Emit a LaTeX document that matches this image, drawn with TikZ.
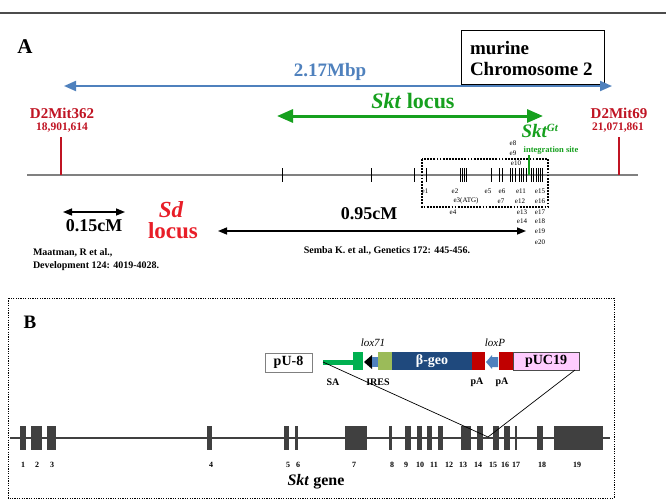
\documentclass[tikz,border=0pt]{standalone}
\usepackage{fontspec}
\setmainfont{Liberation Serif}
\usetikzlibrary{arrows.meta}
\definecolor{mblue}{RGB}{79,129,189}
\definecolor{mgreen}{RGB}{22,160,30}
\definecolor{dred}{RGB}{192,20,35}
\definecolor{bred}{RGB}{232,30,40}
\definecolor{cgray}{RGB}{128,128,128}
\definecolor{egray}{RGB}{64,64,64}
\definecolor{navy}{RGB}{31,73,125}
\definecolor{olive}{RGB}{155,187,89}
\definecolor{cred}{RGB}{192,0,0}
\definecolor{pinkf}{RGB}{255,204,255}
\definecolor{sagreen}{RGB}{0,176,80}
\newcommand{\fsz}[1]{\fontsize{#1}{#1}\selectfont}
\tikzset{
  txt/.style={inner sep=0pt, outer sep=0pt, align=center},
  elbl/.style={inner sep=0pt, font=\fsz{7}},
  glbl/.style={inner sep=0pt, font=\fsz{8}\bfseries},
  exon/.style={fill=egray, draw=none},
  atick/.style={line width=0.8pt, black},
  dbl/.style={line width=1.5pt, {Triangle[length=9pt,width=7pt]}-{Triangle[length=9pt,width=7pt]}},
  cas/.style={draw=none},
}
\begin{document}
\begin{tikzpicture}[x=1pt,y=-1pt]
\useasboundingbox (0,0) rectangle (666,499);
\fill[white] (0,0) rectangle (666,499);
% top rule
\draw[line width=1.5pt, black!70] (0,13) -- (666,13);
% ---------- Panel A ----------
\node[txt, font=\fsz{21}\bfseries] (A) at (25,47) {A};
\draw[line width=0.8pt] (461,30) rectangle (604,84);
\node[txt, font=\fsz{19}\bfseries, anchor=west] (mur) at (470,48) {murine};
\node[txt, font=\fsz{19}\bfseries, anchor=west] (chr) at (470,69) {Chromosome 2};
% blue arrow
\coordinate (bl) at (64,86); \coordinate (br) at (612,86);
\draw[mblue, line width=2pt, {Triangle[length=12pt,width=10pt]}-{Triangle[length=12pt,width=10pt]}] (bl) -- (br);
\node[txt, mblue, font=\fsz{19}\bfseries] (mbp) at (330,72) {2.17Mbp};
% green arrow
\coordinate (gl) at (277,116); \coordinate (gr) at (543,116);
\draw[mgreen, line width=3pt, {Triangle[length=16pt,width=13pt]}-{Triangle[length=16pt,width=13pt]}] (gl) -- (gr);
\node[txt, mgreen, font=\fsz{22}\bfseries] (skt) at (413,101) {\textit{Skt} locus};
% markers
\node[txt, dred, font=\fsz{15}\bfseries] (m1) at (62,113) {D2Mit362};
\node[txt, dred, font=\fsz{11.5}\bfseries] (m1n) at (62,128) {18,901,614};
\node[txt, dred, font=\fsz{15}\bfseries] (m2) at (619,113) {D2Mit69};
\node[txt, dred, font=\fsz{11.5}\bfseries] (m2n) at (618,128) {21,071,861};
% chromosome line
\draw[cgray, line width=1.5pt] (27,175) -- (638,175);
\draw[dred, line width=2pt] (61,137) -- (61,175);
\draw[dred, line width=2pt] (619,137) -- (619,175);
% ticks
\foreach \x in {282,371,414,426,460,462,464,466,491,499,502,510,512,515,519,521,523,526,531,533,536,538,540,542}
  \draw[atick] (\x,168) -- (\x,182);
\draw[mgreen, line width=2pt] (529,155) -- (529,175);
\node[txt, mgreen, font=\fsz{19}\bfseries\itshape] (sktgt) at (540,131) {Skt\textsuperscript{\fsz{11}Gt}};
\node[txt, mgreen, font=\fsz{8.5}\bfseries] (integ) at (551,150) {integration site};
% dotted box
\draw[line width=1.3pt, dash pattern=on 1.8pt off 1.3pt] (422,159) rectangle (548,207);
% exon labels
\node[elbl] (e1) at (425,191) {e1};
\node[elbl] (e2) at (455,191) {e2};
\node[elbl] (e3) at (466,201) {e3(ATG)};
\node[elbl] (e4) at (453,212) {e4};
\node[elbl] (e5) at (488,191) {e5};
\node[elbl] (e6) at (502,191) {e6};
\node[elbl] (e7) at (501,201) {e7};
\node[elbl] (e8) at (513,143) {e8};
\node[elbl] (e9) at (513,153) {e9};
\node[elbl] (e10) at (516,163) {e10};
\node[elbl] (e11) at (521,191) {e11};
\node[elbl] (e12) at (520,201) {e12};
\node[elbl] (e13) at (522,212) {e13};
\node[elbl] (e14) at (522,221) {e14};
\node[elbl] (e15) at (540,191) {e15};
\node[elbl] (e16) at (540,201) {e16};
\node[elbl] (e17) at (540,212) {e17};
\node[elbl] (e18) at (540,221) {e18};
\node[elbl] (e19) at (540,231) {e19};
\node[elbl] (e20) at (540,242) {e20};
% distances
\coordinate (s1) at (63,212); \coordinate (s2) at (125,212);
\draw[dbl] (s1) -- (s2);
\node[txt, font=\fsz{18}\bfseries] (cm15) at (94,226) {0.15cM};
\node[txt, bred, font=\fsz{23}\bfseries\itshape] (sd) at (171,210) {Sd};
\node[txt, bred, font=\fsz{23}\bfseries] (sdl) at (173,231) {locus};
\coordinate (b1) at (218,231); \coordinate (b2) at (526,231);
\draw[dbl] (b1) -- (b2);
\node[txt, font=\fsz{18}\bfseries] (cm95) at (369,214) {0.95cM};
\node[txt, font=\fsz{10}\bfseries] (semba) at (387,251) {Semba K. et al., Genetics 172: 445-456.};
\node[txt, font=\fsz{10}\bfseries, anchor=west, align=left] (maat) at (33,260) {Maatman, R et al.,\\[3pt]Development 124: 4019-4028.};
% ---------- Panel B ----------
\draw[line width=0.8pt, dash pattern=on 1.2pt off 1.2pt] (8,298) rectangle (614,498);
\node[txt, font=\fsz{19}\bfseries] (B) at (30,322) {B};
% gene line
\draw[egray, line width=2pt] (10,438) -- (610,438);
\foreach \a/\b in {20/26,31/42,47/56,207/212,284/289,295/298,345/367,389/392,405/411,417/422,427/432,438/443,461/471,477/483,493/499,504/510,515/517,537/543,554/603}
  \fill[exon] (\a,426) rectangle (\b,450);
\foreach \n/\x in {1/23,2/37,3/52,4/211,5/288,6/298,7/354,8/392,9/406,10/420,11/434,12/449,13/463,14/478,15/493,16/505,17/516,18/542,19/577}
  \node[glbl] (g\n) at (\x,465) {\n};
\node[txt, font=\fsz{16}\bfseries] (sktg) at (316,482) {\textit{Skt} gene};
% cassette
\node[draw=cgray, line width=1pt, fill=white, minimum width=47pt, minimum height=19pt, inner sep=0pt, font=\fsz{14}\bfseries] (pu8) at (288.5,362.5) {pU-8};
\coordinate (sa) at (323,362);
\fill[sagreen] (323,359.5) rectangle (354,364.5);
\fill[sagreen] (353,352) rectangle (363,370);
\fill[black] (364,362) -- (372,355) -- (372,369) -- cycle;
\fill[mblue] (372,357) rectangle (378,367);
\fill[olive] (378,352) rectangle (392,370);
\node[fill=navy, minimum width=80pt, minimum height=18pt, inner sep=0pt, text=white, font=\fsz{14}\bfseries] (bgeo) at (432,361) {β-geo};
\fill[cred] (472,352) rectangle (485,370);
\fill[mblue] (486,362) -- (492,355) -- (492,357) -- (498,357) -- (498,367) -- (492,367) -- (492,369) -- cycle;
\fill[cred] (499,352) rectangle (513,370);
\node[draw=black!70, line width=0.6pt, fill=pinkf, minimum width=66pt, minimum height=18pt, inner sep=0pt, font=\fsz{14}\bfseries] (puc) at (546,361) {pUC19};
\coordinate (pucend) at (575,370);
\node[txt, font=\fsz{11}\itshape] (lox71) at (373,343) {lox71};
\node[txt, font=\fsz{11}\itshape] (loxp) at (495,343) {loxP};
\node[txt, font=\fsz{10}\bfseries] (salbl) at (333,382) {SA};
\node[txt, font=\fsz{10}\bfseries] (ires) at (378,382) {IRES};
\node[txt, font=\fsz{10}\bfseries] (pa1) at (477,382) {pA};
\node[txt, font=\fsz{10}\bfseries] (pa2) at (502,382) {pA};
% insertion lines
\coordinate (ins) at (488,437);
\draw[line width=0.7pt] (sa) -- (ins);
\draw[line width=0.7pt] (pucend) -- (ins);
\end{tikzpicture}
\end{document}
